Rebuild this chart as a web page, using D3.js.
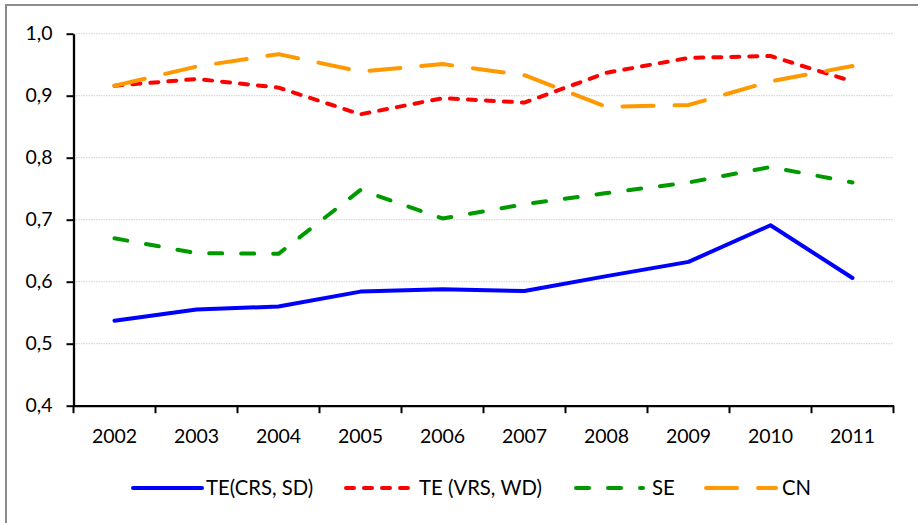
<!DOCTYPE html>
<html>
<head>
<meta charset="utf-8">
<script src="https://cdn.jsdelivr.net/npm/d3@7"></script>
<style>
  html, body { margin: 0; padding: 0; background: #fff; }
  svg { display: block; }
  text { font-family: Lato, "Open Sans", sans-serif; fill: #000; }
</style>
</head>
<body>
<svg id="chart" width="918" height="523"></svg>
<script>
// ---- data ----
const years = ["2002","2003","2004","2005","2006","2007","2008","2009","2010","2011"];
const teCrsSd = [0.537, 0.555, 0.560, 0.584, 0.588, 0.585, 0.609, 0.632, 0.691, 0.606];
const teVrsWd = [0.916, 0.927, 0.913, 0.870, 0.896, 0.889, 0.937, 0.961, 0.964, 0.923];
const se      = [0.670, 0.646, 0.645, 0.748, 0.702, 0.725, 0.743, 0.760, 0.785, 0.760];
const cn      = [0.916, 0.947, 0.967, 0.939, 0.951, 0.933, 0.882, 0.885, 0.923, 0.948];
const seriesNames = ["TE(CRS, SD)", "TE (VRS, WD)", "SE", "CN"];
const yTicks = [0.4, 0.5, 0.6, 0.7, 0.8, 0.9, 1.0];

const series = [
  { name: seriesNames[0], values: teCrsSd, color: "#0000FF", dash: null },
  { name: seriesNames[1], values: teVrsWd, color: "#FF0000", dash: "8,10" },
  { name: seriesNames[2], values: se,      color: "#009900", dash: "13,19" },
  { name: seriesNames[3], values: cn,      color: "#FF9900", dash: "31,21" }
];

const svg = d3.select("#chart");
const W = 918, H = 523;
const plot = { left: 73.5, right: 893.5, top: 33.7, bottom: 405.7 };

// outer border (chart area)
svg.append("rect")
  .attr("x", 6).attr("y", 5)
  .attr("width", W + 10).attr("height", H + 10)
  .attr("fill", "#fff").attr("stroke", "#8c8c8c").attr("stroke-width", 2);

const x = d3.scaleBand().domain(years).range([plot.left, plot.right]);
const y = d3.scaleLinear().domain([0.4, 1.0]).range([plot.bottom, plot.top]);
const fmt = v => d3.format(".1f")(v).replace(".", ",");

// gridlines
svg.append("g").selectAll("line")
  .data(yTicks.filter(t => t > 0.4))
  .join("line")
  .attr("x1", plot.left).attr("x2", plot.right)
  .attr("y1", d => y(d)).attr("y2", d => y(d))
  .attr("stroke", "#d0d0d0").attr("stroke-width", 1)
  .attr("stroke-dasharray", "1.5,1");

// y axis
const yAxis = svg.append("g")
  .attr("transform", `translate(${plot.left},0)`)
  .call(d3.axisLeft(y).tickValues(yTicks).tickFormat(fmt).tickSize(7).tickSizeOuter(0).tickPadding(14));
yAxis.select(".domain").attr("stroke", "#000").attr("stroke-width", 2.3);
yAxis.selectAll(".tick line").attr("stroke", "#000").attr("stroke-width", 2);
yAxis.selectAll(".tick text").style("font-family", "Lato").style("font-size", "19.5px").attr("fill", "#000");

// x axis
const xAxis = svg.append("g")
  .attr("transform", `translate(0,${plot.bottom})`)
  .call(d3.axisBottom(x).tickSize(0).tickPadding(23));
xAxis.select(".domain").attr("stroke", "#000").attr("stroke-width", 2.3);
xAxis.selectAll(".tick text").style("font-family", "Lato").style("font-size", "19.5px").attr("fill", "#000");
// ticks at band boundaries
const bounds = years.map(d => x(d)).concat([plot.right]);
xAxis.append("g").selectAll("line")
  .data(bounds).join("line")
  .attr("x1", d => d).attr("x2", d => d)
  .attr("y1", 0).attr("y2", 7.5)
  .attr("stroke", "#000").attr("stroke-width", 2);

// lines
const line = d3.line()
  .x((d, i) => x(years[i]) + x.bandwidth() / 2)
  .y(d => y(d))
  .curve(d3.curveLinear);

svg.append("g").selectAll("path")
  .data(series)
  .join("path")
  .attr("d", s => line(s.values))
  .attr("fill", "none")
  .attr("stroke", s => s.color)
  .attr("stroke-width", 4)
  .attr("stroke-linecap", "round")
  .attr("stroke-linejoin", "round")
  .attr("stroke-dasharray", s => s.dash);

// legend
const legY = 488;
const legItems = [
  { x1: 133, x2: 202, tx: 206 },
  { x1: 346, x2: 413, tx: 419 },
  { x1: 576, x2: 643, tx: 652 },
  { x1: 706, x2: 776, tx: 782 }
];
const leg = svg.append("g");
series.forEach((s, i) => {
  const L = legItems[i];
  leg.append("line")
    .attr("x1", L.x1).attr("x2", L.x2)
    .attr("y1", legY).attr("y2", legY)
    .attr("stroke", s.color).attr("stroke-width", 4)
    .attr("stroke-linecap", "round")
    .attr("stroke-dasharray", s.dash);
  leg.append("text")
    .attr("x", L.tx).attr("y", legY)
    .attr("dy", "0.35em")
    .style("font-size", "20.3px")
    .text(s.name);
});
</script>
</body>
</html>
